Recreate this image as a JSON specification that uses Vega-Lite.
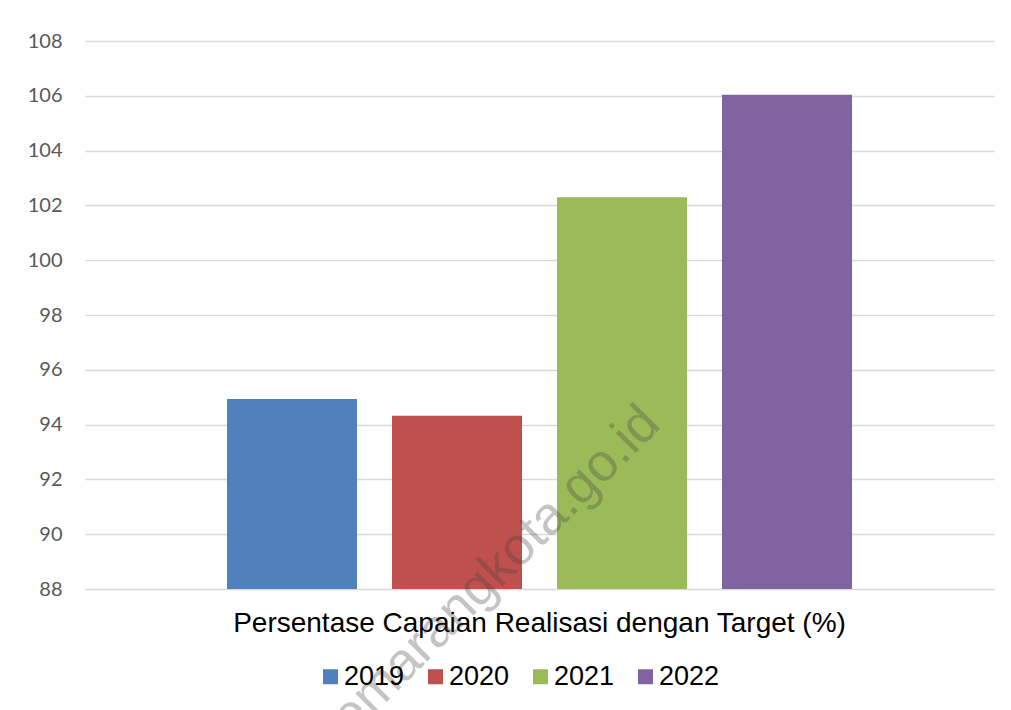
{
  "$schema": "https://vega.github.io/schema/vega-lite/v6.json",
  "width": 909,
  "height": 548,
  "autosize": {"type": "none"},
  "padding": {"left": 85, "top": 41, "right": 17, "bottom": 121},
  "background": "white",
  "config": {"view": {"stroke": null}, "font": "Liberation Sans"},
  "layer": [
    {
      "data": {
        "values": [
          {"kategori": "Persentase Capaian Realisasi dengan Target (%)", "tahun": "2019", "nilai": 94.93},
          {"kategori": "Persentase Capaian Realisasi dengan Target (%)", "tahun": "2020", "nilai": 94.32},
          {"kategori": "Persentase Capaian Realisasi dengan Target (%)", "tahun": "2021", "nilai": 102.3},
          {"kategori": "Persentase Capaian Realisasi dengan Target (%)", "tahun": "2022", "nilai": 106.04}
        ]
      },
      "mark": {"type": "bar", "clip": true},
      "encoding": {
        "x": {
          "field": "kategori",
          "type": "nominal",
          "scale": {"paddingInner": 0, "paddingOuter": 0.1886},
          "axis": {
            "title": null,
            "domain": false,
            "ticks": false,
            "tickSize": 0,
            "grid": false,
            "labelAngle": 0,
            "labelFont": "Liberation Sans",
            "labelFontSize": 28,
            "labelColor": "#000000",
            "labelPadding": 20,
            "labelLimit": 0
          }
        },
        "xOffset": {
          "field": "tahun",
          "type": "nominal",
          "scale": {"paddingInner": 0.212, "paddingOuter": 0.106}
        },
        "y": {
          "field": "nilai",
          "type": "quantitative",
          "scale": {"domain": [88, 108], "zero": false, "nice": false},
          "axis": {
            "title": null,
            "values": [88, 90, 92, 94, 96, 98, 100, 102, 104, 106, 108],
            "grid": true,
            "gridColor": "#D9D9D9",
            "gridWidth": 1.5,
            "domain": false,
            "ticks": false,
            "tickSize": 0,
            "labelPadding": 23,
            "labelFont": "Lato",
            "labelFontSize": 20,
            "labelColor": "#595959"
          }
        },
        "color": {
          "field": "tahun",
          "type": "nominal",
          "scale": {
            "domain": ["2019", "2020", "2021", "2022"],
            "range": ["#4F81BD", "#C0504D", "#9BBB59", "#8064A2"]
          },
          "legend": {
            "orient": "none",
            "legendX": 232,
            "legendY": 622,
            "direction": "horizontal",
            "title": null,
            "symbolType": "square",
            "symbolSize": 225,
            "symbolStrokeWidth": 0,
            "symbolOpacity": 1,
            "labelFont": "Liberation Sans",
            "labelFontSize": 27,
            "labelColor": "#000000",
            "labelOffset": 0,
            "columnPadding": 17,
            "padding": 0
          }
        }
      }
    },
    {
      "data": {"values": [{"teks": "semarangkota.go.id"}]},
      "mark": {
        "type": "text",
        "angle": 315,
        "dx": -59,
        "align": "center",
        "baseline": "alphabetic",
        "font": "Liberation Sans",
        "fontSize": 53,
        "color": "#404040",
        "opacity": 0.3
      },
      "encoding": {
        "x": {"datum": "Persentase Capaian Realisasi dengan Target (%)"},
        "y": {"datum": 89.45},
        "text": {"field": "teks"}
      }
    }
  ]
}
